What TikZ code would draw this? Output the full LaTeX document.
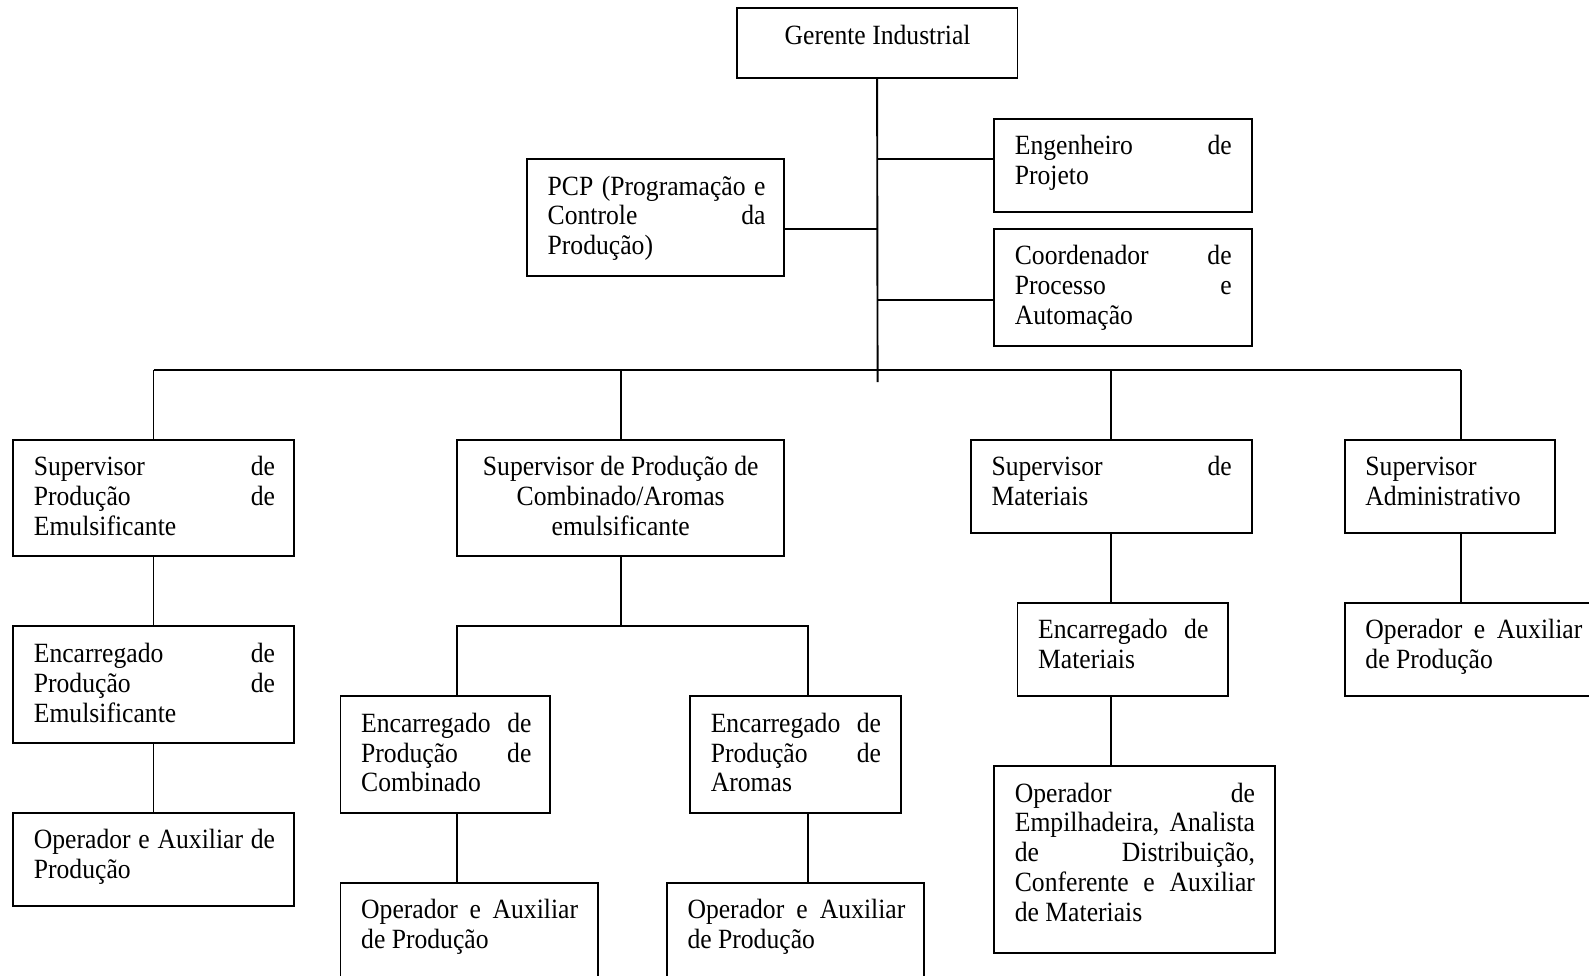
\documentclass[tikz,border=0pt]{standalone}
\usepackage{fontspec}
\setmainfont{Liberation Serif}[FakeStretch=0.92]
\usetikzlibrary{fit}
\newcommand\jl[1]{{\spaceskip=0pt\xspaceskip=0pt\makebox[\jw][s]{#1}}}
\newcommand\nl[1]{{\spaceskip=0pt\xspaceskip=0pt #1}}
\def\jw{100pt}
\begin{document}
\begin{tikzpicture}[x=0.48pt,y=-0.48pt,
  box/.style={draw,line width=0.9pt,inner sep=0pt,fit={#1}},
  txt/.style={inner sep=0pt,anchor=north west,align=left,text width=#1,
    execute at begin node={\def\jw{#1}},font=\fontsize{13.2}{14.16}\selectfont},
  ctxt/.style={inner sep=0pt,anchor=north,align=center,font=\fontsize{13.2}{14.16}\selectfont},
  conn/.style={line width=0.9pt}]
\useasboundingbox (0,0) rectangle (1568,963);
\clip (0,0) rectangle (1568,963);
% boxes
\node[box={(727,8) (1004,77)}] (gi) {};
\node[box={(981,117) (1235,209)}] (eng) {};
\node[box={(520,157) (774,272)}] (pcp) {};
\node[box={(981,226) (1235,341)}] (coord) {};
\node[box={(13,434) (290,549)}] (se) {};
\node[box={(451,434) (774,549)}] (sc) {};
\node[box={(958,434) (1235,526)}] (sm) {};
\node[box={(1327,434) (1534,526)}] (sa) {};
\node[box={(13,618) (290,733)}] (ee) {};
\node[box={(13,802) (290,894)}] (oe) {};
\node[box={(336,687) (543,802)}] (ec) {};
\node[box={(681,687) (889,802)}] (ea) {};
\node[box={(336,871) (590,990)}] (oc) {};
\node[box={(658,871) (912,990)}] (oa) {};
\node[box={(1004,595) (1212,687)}] (em) {};
\node[box={(981,756) (1258,940)}] (om) {};
\node[box={(1327,595) (1600,687)}] (oad) {};
% texts
\node[ctxt] (gi-t) at (866,22.4) {\strut\nl{Gerente Industrial}};
\node[txt=102.72pt] (eng-t) at (1001,131.4) {\strut\jl{Engenheiro de}\\Projeto};
\node[txt=103.2pt] (pcp-t) at (540,171.4) {\strut\jl{PCP (Programação e}\\\jl{Controle da}\\Produção)};
\node[txt=102.72pt] (coord-t) at (1001,240.4) {\strut\jl{Coordenador de}\\\jl{Processo e}\\Automação};
\node[txt=114.24pt] (se-t) at (33,448.4) {\strut\jl{Supervisor de}\\\jl{Produção de}\\Emulsificante};
\node[ctxt] (sc-t) at (612.5,448.4) {\strut\nl{Supervisor de Produção de}\\Combinado/Aromas\\emulsificante};
\node[txt=113.76pt] (sm-t) at (978,448.4) {\strut\jl{Supervisor de}\\Materiais};
\node[txt=89.76pt] (sa-t) at (1347,448.4) {\strut Supervisor\\Administrativo};
\node[txt=114.24pt] (ee-t) at (33,632.4) {\strut\jl{Encarregado de}\\\jl{Produção de}\\Emulsificante};
\node[txt=114.24pt] (oe-t) at (33,816.4) {\strut\jl{Operador e Auxiliar de}\\Produção};
\node[txt=80.64pt] (ec-t) at (356,701.4) {\strut\jl{Encarregado de}\\\jl{Produção de}\\Combinado};
\node[txt=80.64pt] (ea-t) at (701,701.4) {\strut\jl{Encarregado de}\\\jl{Produção de}\\Aromas};
\node[txt=102.72pt] (oc-t) at (356,885.4) {\strut\jl{Operador e Auxiliar}\\\nl{de Produção}};
\node[txt=103.2pt] (oa-t) at (678,885.4) {\strut\jl{Operador e Auxiliar}\\\nl{de Produção}};
\node[txt=80.64pt] (em-t) at (1024,609.4) {\strut\jl{Encarregado de}\\Materiais};
\node[txt=113.76pt] (om-t) at (1001,770.4) {\strut\jl{Operador de}\\\jl{Empilhadeira, Analista}\\\jl{de Distribuição,}\\\jl{Conferente e Auxiliar}\\\nl{de Materiais}};
\node[txt=102.72pt] (oad-t) at (1347,609.4) {\strut\jl{Operador e Auxiliar}\\\nl{de Produção}};
% helper coordinates
\coordinate (trunk) at (866,377);
\coordinate (sa-in) at (1442,434);
\coordinate (ec-in) at (451,687);
\coordinate (ea-in) at (797,687);
% connectors
\draw[conn] (gi.south) -- (trunk);
\draw[conn] (gi.south |- 0,157) -- (eng.west |- 0,157);
\draw[conn] (pcp.east |- 0,226) -- (gi.south |- 0,226);
\draw[conn] (gi.south |- 0,296) -- (coord.west |- 0,296);
\draw[conn] (se.north |- 0,365) -- (sa-in |- 0,365);
\draw[conn] (se.north) -- (se.north |- 0,365);
\draw[conn] (sc.north) -- (sc.north |- 0,365);
\draw[conn] (sm.north) -- (sm.north |- 0,365);
\draw[conn] (sa-in) -- (sa-in |- 0,365);
\draw[conn] (se.south) -- (ee.north);
\draw[conn] (ee.south) -- (oe.north);
\draw[conn] (sc.south) -- (sc.south |- 0,618);
\draw[conn] (ec-in) -- (ec-in |- 0,618) -- (ea-in |- 0,618) -- (ea-in);
\draw[conn] (ec-in |- ec.south) -- (ec-in |- oc.north);
\draw[conn] (ea-in |- ea.south) -- (ea-in |- oa.north);
\draw[conn] (sm.south) -- (sm.south |- em.north);
\draw[conn] (sm.south |- em.south) -- (sm.south |- om.north);
\draw[conn] (sa-in |- sa.south) -- (sa-in |- oad.north);
\end{tikzpicture}
\end{document}
